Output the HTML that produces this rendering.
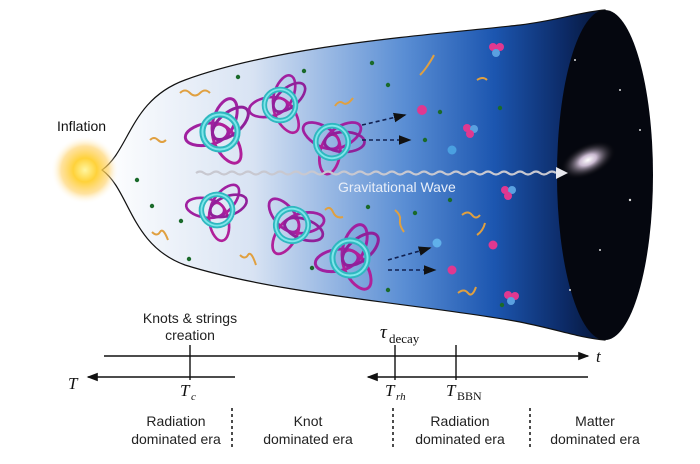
<!DOCTYPE html>
<html><head><meta charset="utf-8"><style>
html,body{margin:0;padding:0;background:#fff;}
svg{display:block;font-family:"Liberation Sans",sans-serif;}
</style></head><body>
<svg width="700" height="464" viewBox="0 0 700 464" xmlns="http://www.w3.org/2000/svg">
<defs>
<linearGradient id="fun" x1="0" x2="1" y1="0" y2="0">
<stop offset="0" stop-color="#ffffff"/>
<stop offset="0.3" stop-color="#d8e3f3"/>
<stop offset="0.6" stop-color="#5a8ed4"/>
<stop offset="0.78" stop-color="#1c56b0"/>
<stop offset="0.92" stop-color="#0c2a66"/>
<stop offset="1" stop-color="#061535"/>
</linearGradient>
<radialGradient id="sun">
<stop offset="0" stop-color="#fff6a0"/>
<stop offset="0.35" stop-color="#ffd23a"/>
<stop offset="0.7" stop-color="#ffcf60" stop-opacity="0.6"/>
<stop offset="1" stop-color="#fff" stop-opacity="0"/>
</radialGradient>
<radialGradient id="gal">
<stop offset="0" stop-color="#fff"/>
<stop offset="0.3" stop-color="#c9b9d0"/>
<stop offset="1" stop-color="#000" stop-opacity="0"/>
</radialGradient>
<marker id="ah" markerWidth="8" markerHeight="8" refX="7" refY="4" orient="auto"><path d="M0,1 L8,4 L0,7 Z" fill="#111"/></marker>
<g id="knot">
<ellipse cx="0" cy="-10" rx="8" ry="16" fill="none" stroke="#a020a0" stroke-width="2.2" transform="rotate(20)"/>
<ellipse cx="0" cy="10" rx="8" ry="16" fill="none" stroke="#a020a0" stroke-width="2.2" transform="rotate(80)"/>
<ellipse cx="0" cy="-10" rx="8" ry="16" fill="none" stroke="#b0209a" stroke-width="2.2" transform="rotate(150)"/>
<ellipse cx="0" cy="10" rx="8" ry="16" fill="none" stroke="#90209a" stroke-width="2.2" transform="rotate(230)"/>
<circle r="13" fill="none" stroke="#2fb8c0" stroke-width="4.5"/>
<circle r="13" fill="none" stroke="#7fe6ea" stroke-width="1.5"/>
</g>
</defs>

<!-- funnel -->
<path d="M102,170 C130,150 130,100 185,80 C280,45 430,35 520,25 C560,20 580,12 605,10 L605,340 C580,338 560,330 520,322 C430,305 280,295 185,265 C130,245 130,190 102,170 Z" fill="url(#fun)" stroke="#111" stroke-width="1.2"/>
<ellipse cx="605" cy="175" rx="48" ry="165" fill="#05070f"/>
<ellipse cx="588" cy="160" rx="30" ry="16" fill="url(#gal)" transform="rotate(-25 588 160)"/>
<g fill="#ddd"><circle cx="575" cy="60" r="1"/><circle cx="620" cy="90" r="1"/><circle cx="600" cy="250" r="1"/><circle cx="630" cy="200" r="1.2"/><circle cx="570" cy="290" r="1"/><circle cx="640" cy="130" r="1"/></g>

<!-- sun -->
<circle cx="85" cy="170" r="34" fill="url(#sun)"/>
<text x="57" y="131" font-size="14" fill="#111">Inflation</text>

<!-- dots -->
<g fill="#1a6a2a">
<circle cx="137" cy="180" r="2.2"/><circle cx="238" cy="77" r="2.2"/><circle cx="304" cy="71" r="2.2"/><circle cx="372" cy="63" r="2.2"/><circle cx="388" cy="85" r="2.2"/><circle cx="425" cy="140" r="2.2"/>
<circle cx="152" cy="206" r="2.2"/><circle cx="181" cy="221" r="2.2"/><circle cx="189" cy="259" r="2.2"/><circle cx="312" cy="268" r="2.2"/><circle cx="368" cy="207" r="2.2"/><circle cx="415" cy="213" r="2.2"/><circle cx="388" cy="290" r="2.2"/><circle cx="440" cy="112" r="2.2"/><circle cx="450" cy="200" r="2.2"/><circle cx="500" cy="108" r="2.2"/><circle cx="502" cy="305" r="2.2"/>
</g>
<!-- squiggles -->
<g fill="none" stroke="#e0a040" stroke-width="2">
<path d="M180,93 q5,-5 10,0 t10,0 t10,0"/>
<path d="M150,140 q4,-4 8,0 t8,0"/>
<path d="M152,232 q5,5 8,0 t8,8"/>
<path d="M240,255 q5,5 8,0 t8,10"/>
<path d="M335,106 q4,-6 8,-3 t10,-5"/>
<path d="M325,210 q5,-5 8,2 t10,5"/>
<path d="M395,210 q6,5 5,10 t4,12"/>
<path d="M420,75 q4,-4 8,-10 t6,-10"/>
<path d="M477,80 q6,-4 10,0"/>
<path d="M462,215 q6,-5 10,0 t8,0"/>
<path d="M458,293 q6,-5 10,0 t8,-6"/>
<path d="M477,235 q6,-4 8,-12"/>
</g>

<!-- knots -->
<use href="#knot" transform="translate(220,132) scale(1.35)"/>
<use href="#knot" transform="translate(280,105) scale(1.2)"/>
<use href="#knot" transform="translate(332,142) rotate(40) scale(1.25)"/>
<use href="#knot" transform="translate(217,210) rotate(20) scale(1.2)"/>
<use href="#knot" transform="translate(292,225) rotate(60) scale(1.25)"/>
<use href="#knot" transform="translate(350,258) scale(1.35)"/>

<!-- dashed arrows -->
<g stroke="#102050" stroke-width="1.6" stroke-dasharray="4,3" marker-end="url(#ah)">
<line x1="362" y1="125" x2="405" y2="115"/>
<line x1="362" y1="140" x2="410" y2="140"/>
<line x1="388" y1="260" x2="430" y2="248"/>
<line x1="388" y1="270" x2="435" y2="270"/>
</g>
<!-- particles -->
<g>
<circle cx="422" cy="110" r="5" fill="#e03890"/>
<circle cx="452" cy="150" r="4.5" fill="#4aa0e0"/>
<circle cx="437" cy="243" r="4.5" fill="#60b0ea"/>
<circle cx="452" cy="270" r="4.5" fill="#e03890"/>
<circle cx="493" cy="245" r="4.5" fill="#e03890"/>
<circle cx="493" cy="47" r="4" fill="#e03890"/><circle cx="500" cy="47" r="4" fill="#e03890"/><circle cx="496" cy="53" r="4" fill="#5aa0e0"/>
<circle cx="467" cy="128" r="4" fill="#e03890"/><circle cx="474" cy="129" r="4" fill="#5aa0e0"/><circle cx="470" cy="134" r="4" fill="#e03890"/>
<circle cx="505" cy="190" r="4" fill="#e03890"/><circle cx="512" cy="190" r="4" fill="#5aa0e0"/><circle cx="508" cy="196" r="4" fill="#e03890"/>
<circle cx="508" cy="295" r="4" fill="#e03890"/><circle cx="515" cy="296" r="4" fill="#e03890"/><circle cx="511" cy="301" r="4" fill="#5aa0e0"/>
</g>

<!-- gravitational wave -->
<path d="M196,173 q4,-3 8,0 t8,0 t8,0 t8,0 t8,0 t8,0 t8,0 t8,0 t8,0 t8,0 t8,0 t8,0 t8,0 t8,0 t8,0 t8,0 t8,0 t8,0 t8,0 t8,0 t8,0 t8,0 t8,0 t8,0 t8,0 t8,0 t8,0 t8,0 t8,0 t8,0 t8,0 t8,0 t8,0 t8,0 t8,0 t8,0 t8,0 t8,0 t8,0 t8,0 t8,0 t8,0 t8,0 t8,0 t8,0" fill="none" stroke="#c8c8d0" stroke-width="2.2"/>
<polygon points="556,167 568,173 556,179" fill="#e8e8ee"/>
<text x="338" y="192" font-size="14" fill="#e8eef8">Gravitational Wave</text>

<!-- timeline -->
<g stroke="#111" stroke-width="1.4" fill="none">
<line x1="104" y1="356" x2="588" y2="356" marker-end="url(#ah)"/>
<line x1="235" y1="377" x2="88" y2="377" marker-end="url(#ah)"/>
<line x1="588" y1="377" x2="368" y2="377" marker-end="url(#ah)"/>
<line x1="190" y1="345" x2="190" y2="380"/>
<line x1="395" y1="345" x2="395" y2="380"/>
<line x1="456" y1="345" x2="456" y2="380"/>
</g>
<g stroke="#111" stroke-width="1.5" stroke-dasharray="3,3">
<line x1="232" y1="408" x2="232" y2="450"/>
<line x1="393" y1="408" x2="393" y2="450"/>
<line x1="530" y1="408" x2="530" y2="450"/>
</g>
<g font-size="14" fill="#222" text-anchor="middle">
<text x="190" y="323">Knots &amp; strings</text>
<text x="190" y="340">creation</text>
<text x="176" y="426">Radiation</text><text x="176" y="444">dominated era</text>
<text x="308" y="426">Knot</text><text x="308" y="444">dominated era</text>
<text x="460" y="426">Radiation</text><text x="460" y="444">dominated era</text>
<text x="595" y="426">Matter</text><text x="595" y="444">dominated era</text>
</g>
<g font-family="Liberation Serif,serif" fill="#111">
<text x="380" y="338" font-size="19" font-style="italic">τ</text><text x="389" y="343" font-size="13">decay</text>
<text x="596" y="362" font-size="17" font-style="italic">t</text>
<text x="68" y="389" font-size="17" font-style="italic">T</text>
<text x="180" y="396" font-size="17" font-style="italic">T</text><text x="191" y="400" font-size="11" font-style="italic">c</text>
<text x="385" y="396" font-size="17" font-style="italic">T</text><text x="396" y="400" font-size="11" font-style="italic">rh</text>
<text x="446" y="396" font-size="17" font-style="italic">T</text><text x="457" y="400" font-size="12">BBN</text>
</g>
</svg>
</body></html>
